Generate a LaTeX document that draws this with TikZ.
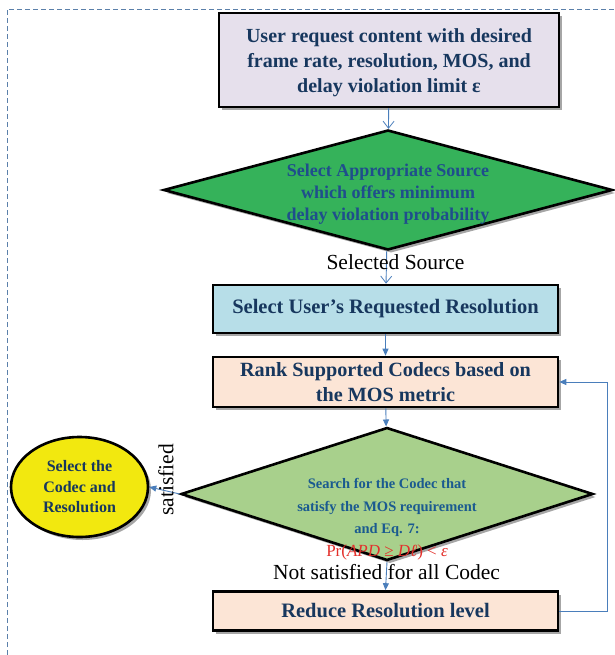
\documentclass[tikz,border=0pt]{standalone}
\usepackage{fontspec}
\setmainfont{Liberation Serif}
\usetikzlibrary{shapes.geometric,arrows.meta,shadows}
\definecolor{lav}{HTML}{E6E0EC}
\definecolor{grnA}{HTML}{35B25A}
\definecolor{grnB}{HTML}{A8D08C}
\definecolor{lblue}{HTML}{B7DEE8}
\definecolor{peach}{HTML}{FCE5D6}
\definecolor{yel}{HTML}{F2E80F}
\definecolor{navy}{HTML}{17375E}
\definecolor{dblue}{HTML}{1F4E8C}
\definecolor{tblue}{HTML}{1A5A90}
\definecolor{redt}{HTML}{E3302B}
\definecolor{linec}{HTML}{4A7EBB}
\definecolor{dashc}{HTML}{5B80AA}
\tikzset{
  procbox/.style={draw=black, line width=2.6pt, rectangle, align=center, text=navy,
    font=\bfseries, inner sep=0pt,
    drop shadow={shadow xshift=3pt, shadow yshift=-3pt, fill=black, opacity=0.35}},
  decbox/.style={draw=black, line width=2.6pt, diamond, inner sep=0pt,
    drop shadow={shadow xshift=3pt, shadow yshift=-3pt, fill=black, opacity=0.35}},
  termbox/.style={draw=black, line width=2.6pt, ellipse, inner sep=0pt, align=center,
    text=navy, font=\fontsize{16}{20.5}\selectfont\bfseries,
    drop shadow={shadow xshift=3pt, shadow yshift=-3pt, fill=black, opacity=0.35}},
  conn/.style={draw=linec, line width=0.9pt, -{Triangle[length=7pt,width=6pt]}},
  openconn/.style={draw=linec, line width=0.9pt, -{Straight Barb[length=7pt,width=11pt,line width=0.8pt]}},
  plainlbl/.style={font=\fontsize{21.5}{24}\selectfont, text=black, inner sep=0pt},
  dashframe/.style={draw=dashc, line width=0.8pt, dash pattern=on 5pt off 3pt}
}
\begin{document}
\begin{tikzpicture}[x=1pt,y=-1pt]
\useasboundingbox (0,0) rectangle (614,655);
\coordinate (fa) at (7,655);
\coordinate (fb) at (7,9);
\coordinate (fc) at (614,9);
\draw[dashframe] (fa) -- (fb) -- (fc);

\node[procbox, fill=lav, minimum width=340pt, minimum height=94pt,
  label={[text=navy, align=center, inner sep=0pt, yshift=-3pt,
    font=\fontsize{20}{25}\selectfont\bfseries]center:User request content with desired\\frame rate, resolution, MOS, and\\delay violation limit ε}] (req) at (389,60) {};

\node[decbox, fill=grnA, minimum width=449pt, minimum height=120pt] (src) at (388,190) {};
\node[align=center, text=dblue, inner sep=0pt, font=\fontsize{18}{22}\selectfont\bfseries]
  (srct) at (388,194) {Select Appropriate Source\\which offers minimum\\delay violation probability};

\node[procbox, fill=lblue, minimum width=345pt, minimum height=48pt,
  font=\fontsize{20.5}{25}\selectfont\bfseries] (selres) at (385.5,309)
  {Select User’s Requested Resolution};

\node[procbox, fill=peach, minimum width=345pt, minimum height=50pt,
  font=\fontsize{20.2}{25}\selectfont\bfseries] (rank) at (385.5,382)
  {Rank Supported Codecs based on\\the MOS metric};

\node[decbox, fill=grnB, minimum width=412pt, minimum height=133pt] (search) at (387,494) {};
\node[align=center, text=tblue, inner sep=0pt, font=\fontsize{14.5}{22.5}\selectfont\bfseries]
  (searcht) at (387,519) {Search for the Codec that\\satisfy the MOS requirement\\and Eq. 7:\\
  {\fontsize{17}{22.5}\selectfont\mdseries\color{redt}Pr(\textit{APD} ≥ \textit{Dℓ}) < \textit{ε}}};

\node[termbox, fill=yel, minimum width=137pt, minimum height=100pt] (pick) at (79.5,487)
  {Select the\\Codec and\\Resolution};

\node[procbox, fill=peach, minimum width=345pt, minimum height=39pt,
  font=\fontsize{20.5}{25}\selectfont\bfseries] (reduce) at (385.5,611)
  {Reduce Resolution level};

\coordinate (loop) at (607,500);

\draw[openconn] (req) -- (src);
\draw[openconn] (src) -- node[plainlbl, pos=0.35, xshift=9pt] {Selected Source} (selres);
\draw[conn] (selres) -- (rank);
\draw[conn] (rank) -- (search);
\draw[conn] (search.west) -- node[plainlbl, rotate=90, pos=0.45, xshift=11pt] {satisfied} (pick.east);
\draw[conn] (search.south) -- node[plainlbl, pos=0.35] {Not satisfied for all Codec} (reduce.north);
\draw[conn] (reduce.east) -| (loop) |- (rank.east);
\end{tikzpicture}
\end{document}
